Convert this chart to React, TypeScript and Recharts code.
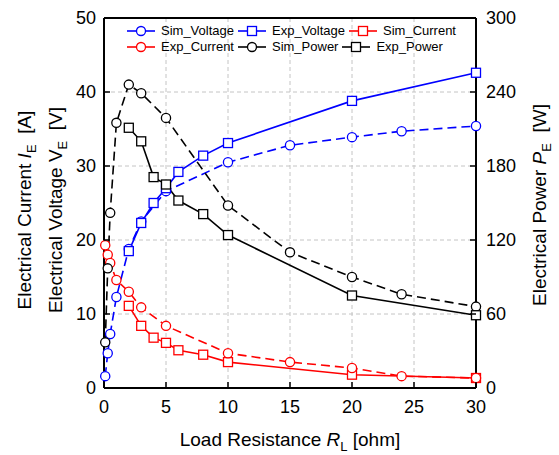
import {
  CartesianGrid,
  ComposedChart,
  Line,
  ReferenceLine,
  XAxis,
  YAxis,
} from "recharts";

const FONT = '"Liberation Sans", Arial, sans-serif';

// load resistance values (ohm)
const simR = [0.1, 0.3, 0.5, 1, 2, 3, 5, 10, 15, 20, 24, 30];
const expR = [2, 3, 4, 5, 6, 8, 10, 20, 30];

// voltage [V]
const simVoltage = [1.6, 4.7, 7.3, 12.3, 18.8, 22.5, 26.6, 30.5, 32.8, 33.9, 34.7, 35.4];
const expVoltage = [18.5, 22.3, 25.0, 27.0, 29.2, 31.4, 33.1, 38.8, 42.6];

// current [A]
const squareCurrent = [11.1, 8.4, 6.8, 6.1, 5.1, 4.5, 3.5, 1.8, 1.35];
const circleCurrent = [19.3, 18.0, 16.9, 14.6, 13.0, 10.9, 8.4, 4.7, 3.5, 2.7, 1.6, 1.35];

// power [W]
const simPower = [37, 97, 142, 215, 246, 239, 219, 148, 110, 90, 76, 66];
const expPower = [211, 200, 171, 165, 152, 141, 124, 75, 59];

const xTicks = [0, 5, 10, 15, 20, 25, 30];
const leftTicks = [0, 10, 20, 30, 40, 50];
const rightTicks = [0, 60, 120, 180, 240, 300];

const toPoints = (xs: number[], ys: number[]) =>
  xs.map((r, i) => ({ r, v: ys[i] }));

type Marker = "circle" | "square";

interface Series {
  label: string;
  color: string;
  marker: Marker;
  dashed: boolean;
  axis: "L" | "R";
  data: { r: number; v: number }[];
}

const series: Series[] = [
  { label: "Sim_Voltage", color: "#0000ff", marker: "circle", dashed: true, axis: "L", data: toPoints(simR, simVoltage) },
  { label: "Exp_Voltage", color: "#0000ff", marker: "square", dashed: false, axis: "L", data: toPoints(expR, expVoltage) },
  { label: "Sim_Current", color: "#ff0000", marker: "square", dashed: false, axis: "L", data: toPoints(expR, squareCurrent) },
  { label: "Exp_Current", color: "#ff0000", marker: "circle", dashed: true, axis: "L", data: toPoints(simR, circleCurrent) },
  { label: "Sim_Power", color: "#000000", marker: "circle", dashed: true, axis: "R", data: toPoints(simR, simPower) },
  { label: "Exp_Power", color: "#000000", marker: "square", dashed: false, axis: "R", data: toPoints(expR, expPower) },
];

const DASH = "9 5";

function makeDot(color: string, marker: Marker) {
  return (p: any) => {
    const k = `${marker}-${color}-${p.index}`;
    if (p.cx == null || p.cy == null) return <g key={k} />;
    return marker === "circle" ? (
      <circle key={k} cx={p.cx} cy={p.cy} r={4.6} fill="#fff" stroke={color} strokeWidth={1.3} />
    ) : (
      <rect key={k} x={p.cx - 4.5} y={p.cy - 4.5} width={9} height={9} fill="#fff" stroke={color} strokeWidth={1.3} />
    );
  };
}

function LeftTick({ x, y, payload }: any) {
  return (
    <g>
      <line x1={x} x2={x + 6} y1={y} y2={y} stroke="#000" strokeWidth={1.5} />
      <text x={x - 8} y={y} dy="0.36em" textAnchor="end" fontSize={18} fontFamily={FONT} fill="#000">
        {payload.value}
      </text>
    </g>
  );
}

function RightTick({ x, y, payload }: any) {
  return (
    <g>
      <line x1={x - 6} x2={x} y1={y} y2={y} stroke="#000" strokeWidth={1.5} />
      <text x={x + 10} y={y} dy="0.36em" textAnchor="start" fontSize={18} fontFamily={FONT} fill="#000">
        {payload.value}
      </text>
    </g>
  );
}

function BottomTick({ x, y, payload }: any) {
  return (
    <g>
      <line x1={x} x2={x} y1={y - 6} y2={y} stroke="#000" strokeWidth={1.5} />
      <text x={x} y={y + 25} textAnchor="middle" fontSize={18} fontFamily={FONT} fill="#000">
        {payload.value}
      </text>
    </g>
  );
}

function LegendIcon({ s }: { s: Series }) {
  return (
    <svg width={28} height={12} style={{ display: "block" }}>
      <line x1={0} x2={28} y1={6} y2={6} stroke={s.color} strokeWidth={1.6} />
      {s.marker === "circle" ? (
        <circle cx={14} cy={6} r={4.5} fill="#fff" stroke={s.color} strokeWidth={1.3} />
      ) : (
        <rect x={9.5} y={1.5} width={9} height={9} fill="#fff" stroke={s.color} strokeWidth={1.3} />
      )}
    </svg>
  );
}

function LegendBox() {
  const rows = [series.slice(0, 3), series.slice(3, 6)];
  return (
    <div
      style={{
        position: "absolute",
        left: 127,
        top: 23,
        fontFamily: FONT,
        fontSize: 13,
        lineHeight: "16px",
        color: "#000",
      }}
    >
      {rows.map((row, i) => (
        <div key={i} style={{ display: "flex", alignItems: "center", whiteSpace: "nowrap" }}>
          {row.map((s) => (
            <div key={s.label} style={{ display: "flex", alignItems: "center", marginRight: 4 }}>
              <LegendIcon s={s} />
              <span style={{ marginLeft: 6 }}>{s.label}</span>
            </div>
          ))}
        </div>
      ))}
    </div>
  );
}

function Titles() {
  const fs = 19;
  const sub = { fontSize: 13 };
  return (
    <svg
      width={559}
      height={455}
      style={{ position: "absolute", left: 0, top: 0, pointerEvents: "none" }}
      fontFamily={FONT}
      fontSize={fs}
      fill="#000"
    >
      <text x={290} y={446} textAnchor="middle">
        Load Resistance <tspan fontStyle="italic">R</tspan>
        <tspan dy={5} {...sub}>L</tspan>
        <tspan dy={-5}> [ohm]</tspan>
      </text>
      <text transform="translate(24,210) rotate(-90)" textAnchor="middle" dy="0.35em">
        Electrical Current <tspan fontStyle="italic">I</tspan>
        <tspan dy={5} {...sub}>E</tspan>
        <tspan dy={-5}>{"\u00a0 [A]"}</tspan>
      </text>
      <text transform="translate(55,210) rotate(-90)" textAnchor="middle" dy="0.35em">
        Electrical Voltage V<tspan dy={5} {...sub}>E</tspan>
        <tspan dy={-5}>{"\u00a0 [V]"}</tspan>
      </text>
      <text transform="translate(539,205) rotate(-90)" textAnchor="middle" dy="0.35em">
        Electrical Power <tspan fontStyle="italic">P</tspan>
        <tspan dy={5} {...sub}>E</tspan>
        <tspan dy={-5}>{"\u00a0 [W]"}</tspan>
      </text>
    </svg>
  );
}

export default function App() {
  return (
    <div style={{ position: "absolute", left: 0, top: 0, width: 559, height: 455, background: "#fff" }}>
      <ComposedChart width={559} height={455} margin={{ top: 18, right: 23, bottom: 27, left: 44 }}>
        <CartesianGrid yAxisId="L" stroke="#c4c4c4" strokeDasharray="4 3" strokeWidth={1} />
        <XAxis
          dataKey="r"
          type="number"
          domain={[0, 30]}
          ticks={xTicks}
          height={40}
          axisLine={{ stroke: "#000", strokeWidth: 2 }}
          tickLine={false}
          tickSize={0}
          tickMargin={0}
          tick={<BottomTick />}
          interval={0}
        />
        <YAxis
          yAxisId="L"
          orientation="left"
          domain={[0, 50]}
          ticks={leftTicks}
          width={60}
          axisLine={{ stroke: "#000", strokeWidth: 2 }}
          tickLine={false}
          tickSize={0}
          tickMargin={0}
          tick={<LeftTick />}
          interval={0}
        />
        <YAxis
          yAxisId="R"
          orientation="right"
          domain={[0, 300]}
          ticks={rightTicks}
          width={60}
          axisLine={{ stroke: "#000", strokeWidth: 2 }}
          tickLine={false}
          tickSize={0}
          tickMargin={0}
          tick={<RightTick />}
          interval={0}
        />
        <ReferenceLine yAxisId="L" y={50} stroke="#000" strokeWidth={2} />
        {series.map((s) => (
          <Line
            key={s.label}
            name={s.label}
            yAxisId={s.axis}
            data={s.data}
            dataKey="v"
            type="linear"
            stroke={s.color}
            strokeWidth={1.6}
            strokeDasharray={s.dashed ? DASH : undefined}
            dot={makeDot(s.color, s.marker)}
            activeDot={false}
            isAnimationActive={false}
          />
        ))}
      </ComposedChart>
      <LegendBox />
      <Titles />
    </div>
  );
}
